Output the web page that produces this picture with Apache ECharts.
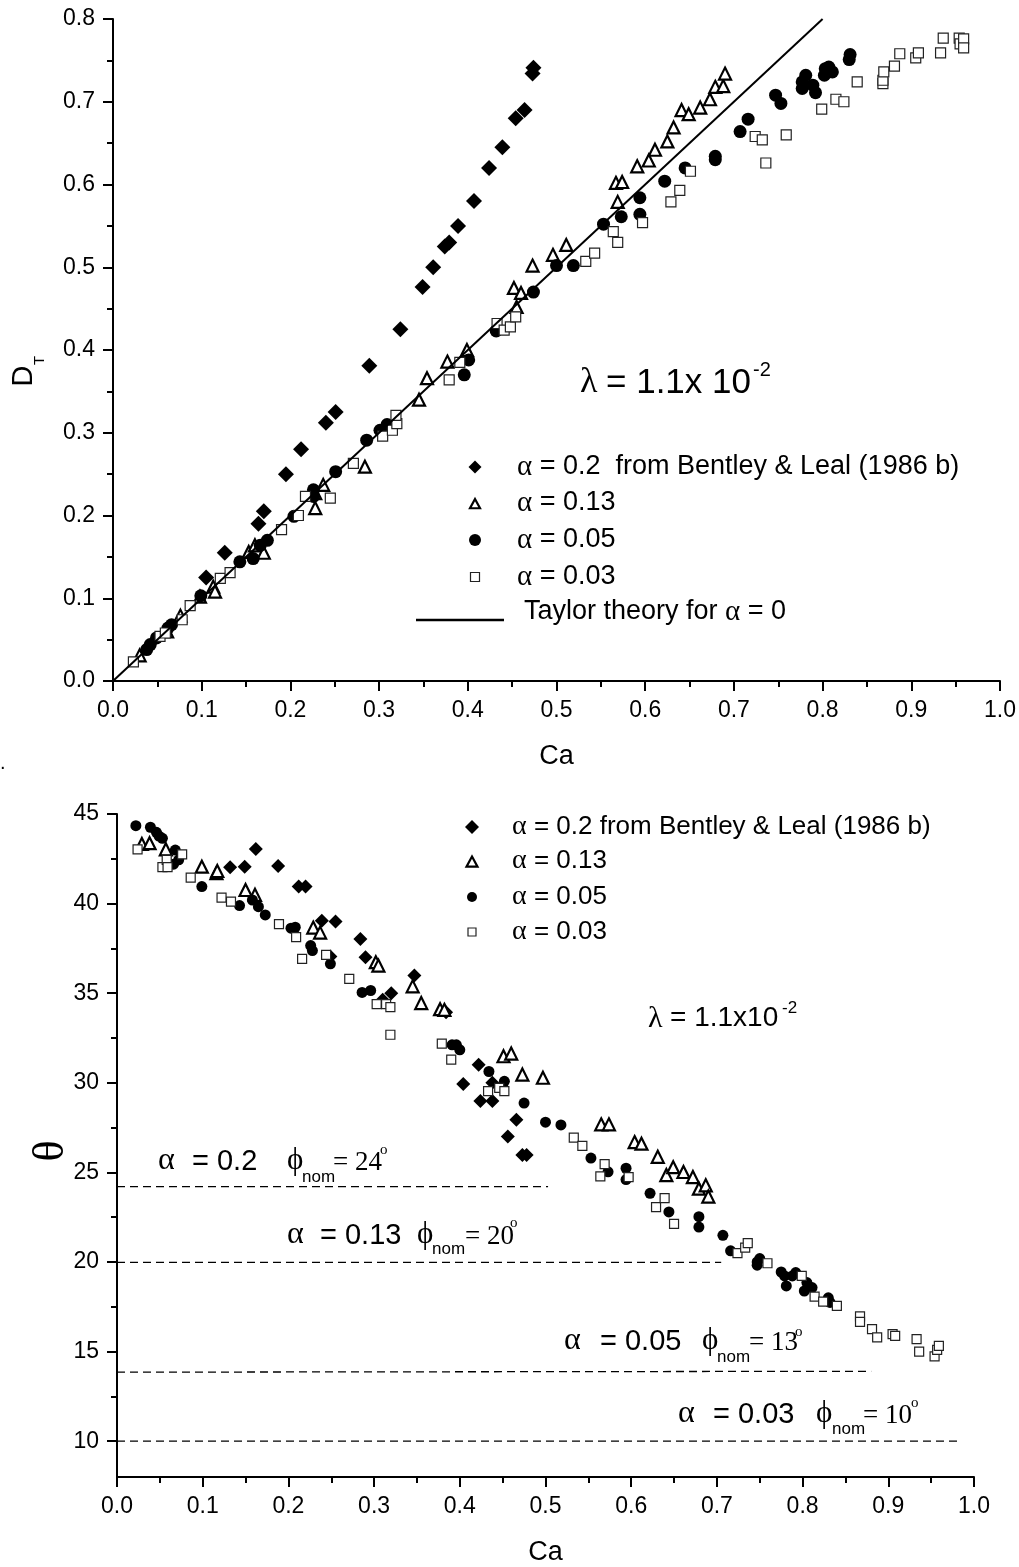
<!DOCTYPE html>
<html><head><meta charset="utf-8">
<script src="https://cdn.jsdelivr.net/npm/echarts@6/dist/echarts.min.js"></script>
<style>html,body{margin:0;padding:0;background:#fff}#c{width:1019px;height:1567px}</style>
</head><body><div id="c"></div>
<script>
const SANS = '"Liberation Sans", Arial, sans-serif';
const SERIF = '"Liberation Serif", "Times New Roman", serif';

// ---------- Top panel: D_T vs Ca ----------
const dtAlpha020 = [[0.105,0.125],[0.126,0.155],[0.164,0.190],[0.170,0.205],[0.195,0.250],[0.212,0.280],[0.240,0.312],[0.251,0.325],[0.289,0.381],[0.324,0.425],[0.349,0.476],[0.361,0.500],[0.374,0.525],[0.379,0.530],[0.389,0.550],[0.407,0.580],[0.424,0.620],[0.439,0.645],[0.454,0.680],[0.464,0.690],[0.473,0.734],[0.474,0.741]];
const dtAlpha013 = [[0.030,0.031],[0.061,0.060],[0.076,0.079],[0.098,0.102],[0.113,0.114],[0.115,0.108],[0.153,0.156],[0.160,0.164],[0.170,0.155],[0.228,0.209],[0.228,0.227],[0.237,0.237],[0.284,0.259],[0.345,0.340],[0.354,0.366],[0.377,0.386],[0.399,0.400],[0.455,0.452],[0.452,0.475],[0.460,0.469],[0.473,0.502],[0.496,0.515],[0.511,0.527],[0.569,0.579],[0.567,0.602],[0.574,0.603],[0.591,0.622],[0.604,0.629],[0.611,0.642],[0.625,0.652],[0.632,0.669],[0.641,0.690],[0.649,0.685],[0.662,0.693],[0.673,0.703],[0.679,0.718],[0.688,0.719],[0.690,0.734]];
const dtAlpha005 = [[0.038,0.038],[0.042,0.044],[0.049,0.052],[0.062,0.064],[0.066,0.068],[0.099,0.103],[0.143,0.144],[0.158,0.148],[0.166,0.164],[0.174,0.170],[0.204,0.199],[0.226,0.223],[0.226,0.231],[0.251,0.253],[0.286,0.291],[0.301,0.303],[0.309,0.310],[0.396,0.370],[0.401,0.388],[0.432,0.423],[0.474,0.470],[0.500,0.502],[0.519,0.502],[0.553,0.552],[0.573,0.561],[0.594,0.564],[0.594,0.584],[0.622,0.604],[0.645,0.620],[0.679,0.630],[0.679,0.634],[0.707,0.664],[0.716,0.679],[0.747,0.708],[0.753,0.698],[0.777,0.716],[0.777,0.724],[0.781,0.732],[0.789,0.720],[0.792,0.711],[0.802,0.732],[0.803,0.740],[0.807,0.742],[0.811,0.736],[0.830,0.751],[0.831,0.757]];
const dtAlpha003 = [[0.023,0.023],[0.053,0.054],[0.059,0.058],[0.078,0.074],[0.087,0.091],[0.121,0.124],[0.132,0.131],[0.190,0.183],[0.209,0.200],[0.217,0.223],[0.245,0.221],[0.271,0.263],[0.304,0.296],[0.315,0.303],[0.320,0.311],[0.319,0.321],[0.379,0.364],[0.391,0.385],[0.433,0.432],[0.441,0.424],[0.448,0.428],[0.454,0.440],[0.533,0.507],[0.543,0.517],[0.564,0.543],[0.569,0.530],[0.597,0.554],[0.629,0.579],[0.639,0.593],[0.651,0.616],[0.724,0.658],[0.732,0.654],[0.736,0.626],[0.759,0.660],[0.799,0.691],[0.815,0.703],[0.824,0.700],[0.839,0.724],[0.868,0.722],[0.868,0.726],[0.869,0.736],[0.881,0.743],[0.887,0.758],[0.905,0.753],[0.908,0.759],[0.933,0.759],[0.936,0.777],[0.954,0.777],[0.955,0.770],[0.959,0.776],[0.959,0.765]];
const taylorLine = [[0,0],[0.8,0.8]];

// ---------- Bottom panel: theta vs Ca ----------
const thAlpha020 = [[0.132,42.03],[0.149,42.06],[0.162,43.05],[0.188,42.1],[0.212,40.95],[0.220,40.95],[0.239,39.04],[0.249,37.05],[0.255,39.0],[0.284,38.02],[0.290,37.01],[0.310,34.63],[0.320,35.0],[0.347,35.99],[0.384,33.93],[0.404,29.93],[0.422,31.0],[0.424,28.99],[0.438,30.0],[0.438,28.99],[0.456,27.0],[0.466,27.94],[0.473,25.97],[0.478,25.97]];
const thAlpha013 = [[0.029,43.33],[0.038,43.37],[0.057,43.03],[0.099,42.06],[0.116,41.7],[0.117,41.82],[0.150,40.76],[0.161,40.49],[0.229,38.66],[0.237,38.38],[0.302,36.73],[0.305,36.54],[0.345,35.38],[0.355,34.45],[0.377,34.11],[0.382,34.07],[0.451,31.48],[0.460,31.63],[0.473,30.46],[0.497,30.28],[0.565,27.68],[0.574,27.68],[0.604,26.69],[0.612,26.6],[0.631,25.87],[0.641,24.85],[0.649,25.29],[0.661,25.02],[0.672,24.74],[0.679,24.09],[0.687,24.28],[0.690,23.65]];
const thAlpha005 = [[0.022,44.35],[0.039,44.26],[0.046,43.98],[0.049,43.77],[0.053,43.64],[0.066,42.2],[0.068,42.99],[0.072,42.44],[0.099,40.95],[0.143,39.89],[0.158,40.2],[0.165,39.83],[0.173,39.37],[0.203,38.63],[0.208,38.68],[0.226,37.66],[0.228,37.38],[0.249,36.64],[0.286,35.04],[0.296,35.15],[0.391,32.12],[0.396,32.12],[0.400,31.84],[0.434,30.63],[0.452,30.08],[0.475,28.87],[0.500,27.8],[0.518,27.65],[0.553,25.8],[0.573,25.03],[0.594,25.23],[0.594,24.6],[0.622,23.83],[0.644,22.79],[0.679,22.53],[0.679,21.95],[0.707,21.49],[0.716,20.62],[0.747,19.82],[0.747,20.0],[0.750,20.19],[0.775,19.44],[0.779,19.22],[0.781,18.66],[0.788,19.22],[0.792,19.41],[0.802,18.38],[0.805,18.85],[0.811,18.57],[0.830,18.0],[0.832,17.74]];
const thAlpha003 = [[0.024,43.03],[0.053,42.03],[0.058,42.44],[0.059,42.03],[0.076,42.75],[0.086,41.45],[0.122,40.33],[0.133,40.11],[0.189,38.85],[0.209,38.13],[0.216,36.92],[0.244,37.14],[0.271,35.8],[0.303,34.39],[0.314,34.39],[0.319,34.22],[0.319,32.68],[0.379,32.18],[0.390,31.29],[0.433,29.53],[0.446,29.72],[0.452,29.53],[0.533,26.94],[0.543,26.48],[0.564,24.78],[0.569,25.46],[0.597,24.73],[0.629,23.06],[0.639,23.56],[0.650,22.13],[0.724,20.49],[0.733,20.8],[0.736,21.05],[0.759,19.93],[0.799,19.22],[0.814,18.07],[0.824,17.79],[0.840,17.55],[0.867,16.96],[0.867,16.66],[0.881,16.25],[0.887,15.79],[0.905,15.97],[0.908,15.88],[0.933,15.69],[0.936,15.0],[0.954,14.73],[0.957,15.1],[0.959,15.32]];
const nomLine24 = [[0,24.2],[0.503,24.2]];
const nomLine20 = [[0,19.98],[0.705,19.98]];
const nomLine13 = [[0,13.85],[0.88,13.9]];
const nomLine10 = [[0,10],[0.984,10]];

const caTickInterval = 0.1;
const dtTickInterval = 0.1;
const thetaTicks = [10,15,20,25,30,35,40,45];
const thetaMinorTicks = [12.5,17.5,22.5,27.5,32.5,37.5,42.5];

const topLegendLabels = ['α = 0.2  from Bentley & Leal (1986 b)','α = 0.13','α = 0.05','α = 0.03','Taylor theory for α = 0'];
const botLegendLabels = ['α = 0.2 from Bentley & Leal (1986 b)','α = 0.13','α = 0.05','α = 0.03'];

// ---------- helpers ----------
const axisLine = {show:true, lineStyle:{color:'#000', width:2}};
const tick = (len) => ({show:true, length:len, lineStyle:{color:'#000', width:2}});
function T(x, y, text, size, family, extra){
  return Object.assign({type:'text', x:x, y:y, silent:true, z:100,
    style:Object.assign({text:text, fontSize:size, fontFamily:family, fill:'#000',
      align:'left', verticalAlign:'middle', textAlign:'left', textVerticalAlign:'middle'}, (extra&&extra.style)||{})},
    extra&&extra.el||{});
}
function legendText(x, y, label, size){
  const parts = label.split('α');
  const rich = {g:{fontFamily:SERIF, fontSize:size+2, fill:'#000'}, t:{fontFamily:SANS, fontSize:size, fill:'#000'}};
  let s = '';
  parts.forEach((p,i)=>{ if(p) s += '{t|'+p+'}'; if(i<parts.length-1) s += '{g|α}'; });
  return {type:'text', x:x, y:y, silent:true, z:100,
    style:{text:s, rich:rich, fontSize:size, fontFamily:SANS, fill:'#000', align:'left', verticalAlign:'middle', textAlign:'left', textVerticalAlign:'middle'}};
}
function diamond(cx, cy, s){ const h=s/2; return {type:'polygon', silent:true, z:100, shape:{points:[[cx,cy-h],[cx+h,cy],[cx,cy+h],[cx-h,cy]]}, style:{fill:'#000'}}; }
function tri(cx, cy, s, lw){ const h=s/2; return {type:'polygon', silent:true, z:100, shape:{points:[[cx,cy-h],[cx+h,cy+h*0.85],[cx-h,cy+h*0.85]]}, style:{fill:'#fff', stroke:'#000', lineWidth:lw}}; }
function dot(cx, cy, r){ return {type:'circle', silent:true, z:100, shape:{cx:cx, cy:cy, r:r}, style:{fill:'#000'}}; }
function sq(cx, cy, s){ return {type:'rect', silent:true, z:100, shape:{x:cx-s/2, y:cy-s/2, width:s, height:s}, style:{fill:'#fff', stroke:'#222', lineWidth:1.2}}; }

// annotation: alpha = v   phi_nom = d deg
function nomLabel(p){
  return [
    T(p.ax, p.base-11, 'α', 32, SERIF),
    T(p.ex, p.base-10, '= '+p.v, 29, SANS),
    T(p.px, p.base-11, 'ϕ', 31, SERIF),
    T(p.nx, p.nbase-6, 'nom', 17, SANS),
    T(p.dx, p.base-9, '= '+p.d, 27, SERIF),
    T(p.ox, p.obase-5, 'o', 15, SERIF)
  ];
}

const graphics = [];
// top legend
const tlRows = [467, 503, 540, 577];
graphics.push(diamond(475, tlRows[0], 13));
graphics.push(tri(475, tlRows[1]+1, 10, 2.2));
graphics.push(dot(475, tlRows[2], 6));
graphics.push(sq(475, tlRows[3], 9));
tlRows.forEach((y,i)=>graphics.push(legendText(517, y, topLegendLabels[i], 27)));
graphics.push({type:'line', silent:true, z:100, shape:{x1:416, y1:620, x2:504, y2:620}, style:{stroke:'#000', lineWidth:2.5}});
graphics.push(legendText(524, 612, topLegendLabels[4], 27));
// lambda top
graphics.push(T(580, 383, 'λ', 36, SERIF));
graphics.push(T(606, 383, '= 1.1x 10', 35, SANS));
graphics.push(T(753, 370, '-2', 20, SANS));
// bottom legend
const blRows = [827, 861, 897, 932];
graphics.push(diamond(472, blRows[0], 14));
graphics.push(tri(472, blRows[1]+1, 11, 2.2));
graphics.push(dot(472, blRows[2], 5));
graphics.push(sq(472, blRows[3], 8));
blRows.forEach((y,i)=>graphics.push(legendText(512, y, botLegendLabels[i], 26)));
// lambda bottom
graphics.push(T(648, 1019, 'λ', 30, SERIF));
graphics.push(T(670, 1018, '= 1.1x10', 28, SANS));
graphics.push(T(782, 1008, '-2', 17, SANS));
// nominal-angle labels
[
  {ax:158, ex:192, px:287, nx:302, dx:333, ox:380, base:1172, nbase:1183, obase:1155, v:'0.2', d:'24'},
  {ax:287, ex:320, px:417, nx:432, dx:465, ox:510, base:1246, nbase:1255, obase:1228, v:'0.13', d:'20'},
  {ax:564, ex:600, px:702, nx:717, dx:749, ox:795, base:1352, nbase:1363, obase:1337, v:'0.05', d:'13'},
  {ax:678, ex:713, px:816, nx:832, dx:863, ox:911, base:1425, nbase:1435, obase:1408, v:'0.03', d:'10'}
].forEach(p=>nomLabel(p).forEach(g=>graphics.push(g)));
// axis titles
graphics.push({type:'group', x:24, y:376, rotation:Math.PI/2, silent:true, children:[
  {type:'text', x:0, y:0, style:{text:'D', fontSize:29, fontFamily:SANS, fill:'#000', align:'center', verticalAlign:'middle', textAlign:'center', textVerticalAlign:'middle'}},
  {type:'text', x:11, y:16, style:{text:'T', fontSize:15, fontFamily:SANS, fill:'#000', align:'left', verticalAlign:'middle', textAlign:'left', textVerticalAlign:'middle'}}
]});
graphics.push({type:'text', x:51, y:1151, rotation:Math.PI/2, silent:true,
  style:{text:'θ', fontSize:44, fontFamily:SERIF, fill:'#000', align:'center', verticalAlign:'middle', textAlign:'center', textVerticalAlign:'middle'}});
graphics.push(T(0, 763, '.', 20, SANS));

function scatter(name, data, xi, yi, symbol, size, style, z){
  return {name:name, type:'scatter', xAxisIndex:xi, yAxisIndex:yi, data:data, symbol:symbol, symbolSize:size,
    itemStyle:Object.assign({opacity:1}, style), silent:true, z:z||2};
}
const fill = {color:'#000'};
const triStyle = {color:'#fff', borderColor:'#000', borderWidth:2.2};
const sqStyle = {color:'#fff', borderColor:'#222', borderWidth:1.2};
function dashLine(data){
  return {type:'line', xAxisIndex:1, yAxisIndex:1, data:data, symbol:'none', silent:true,
    lineStyle:{color:'#000', width:1.3, type:[8,5], opacity:1}, z:1};
}
const lbl = {fontSize:23, fontFamily:SANS, color:'#000', margin:18};
const minor = {show:true, splitNumber:2, length:6, lineStyle:{color:'#000', width:2}};

const option = {
  animation:false,
  backgroundColor:'#fff',
  textStyle:{fontFamily:SANS},
  grid:[
    {left:113, top:19, width:887, height:662},
    {left:117, top:814, width:857, height:664}
  ],
  xAxis:[
    {gridIndex:0, type:'value', min:0, max:1, interval:caTickInterval,
      name:'Ca', nameLocation:'middle', nameGap:62, nameTextStyle:{fontSize:27, fontFamily:SANS, color:'#000'},
      axisLine:axisLine, axisTick:tick(10), minorTick:minor, splitLine:{show:false},
      axisLabel:Object.assign({formatter:v=>v.toFixed(1)}, lbl)},
    {gridIndex:1, type:'value', min:0, max:1, interval:caTickInterval,
      name:'Ca', nameLocation:'middle', nameGap:62, nameTextStyle:{fontSize:27, fontFamily:SANS, color:'#000'},
      axisLine:axisLine, axisTick:tick(10), minorTick:minor, splitLine:{show:false},
      axisLabel:Object.assign({formatter:v=>v.toFixed(1)}, lbl)}
  ],
  yAxis:[
    {gridIndex:0, type:'value', min:0, max:0.8, interval:dtTickInterval, position:'left',
      axisLine:axisLine, axisTick:tick(10), minorTick:minor, splitLine:{show:false},
      axisLabel:Object.assign({formatter:v=>v.toFixed(1)}, lbl)},
    {gridIndex:1, type:'value', min:8, max:45, position:'left',
      axisLine:axisLine, axisTick:Object.assign(tick(10), {customValues:thetaTicks}),
      splitLine:{show:false},
      axisLabel:Object.assign({customValues:thetaTicks}, lbl)},
    {gridIndex:1, type:'value', min:8, max:45, position:'left', offset:0,
      axisLine:{show:false}, axisTick:Object.assign(tick(6), {customValues:thetaMinorTicks}),
      splitLine:{show:false}, axisLabel:{show:false}}
  ],
  series:[
    scatter('α = 0.2', dtAlpha020, 0, 0, 'diamond', 16, fill),
    scatter('α = 0.13', dtAlpha013, 0, 0, 'triangle', 12, triStyle),
    scatter('α = 0.05', dtAlpha005, 0, 0, 'circle', 13, fill),
    scatter('α = 0.03', dtAlpha003, 0, 0, 'rect', 10, sqStyle),
    {name:'Taylor', type:'line', xAxisIndex:0, yAxisIndex:0, data:taylorLine, symbol:'none', silent:true,
      lineStyle:{color:'#000', width:2, opacity:1}, z:3},
    dashLine(nomLine24), dashLine(nomLine20), dashLine(nomLine13), dashLine(nomLine10),
    scatter('α = 0.2 b', thAlpha020, 1, 1, 'diamond', 14, fill),
    scatter('α = 0.13 b', thAlpha013, 1, 1, 'triangle', 12, triStyle),
    scatter('α = 0.05 b', thAlpha005, 1, 1, 'circle', 11, fill),
    scatter('α = 0.03 b', thAlpha003, 1, 1, 'rect', 9, sqStyle)
  ],
  graphic:{elements:graphics}
};
const chart = echarts.init(document.getElementById('c'), null, {renderer:'canvas'});
chart.setOption(option);
</script></body></html>
